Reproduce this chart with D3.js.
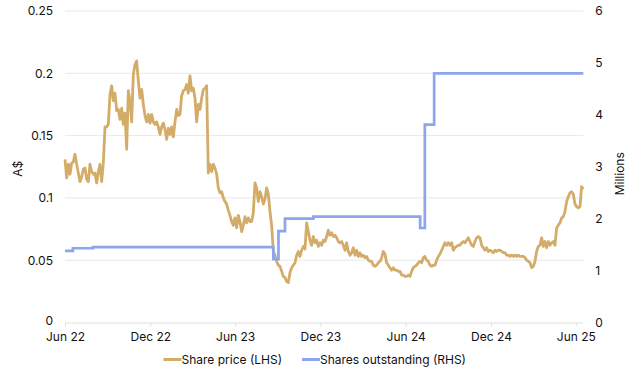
<!DOCTYPE html>
<html>
<head>
<meta charset="utf-8">
<script src="https://cdn.jsdelivr.net/npm/d3@7"></script>
<style>
  html, body { margin: 0; padding: 0; background: #fff; }
  svg { display: block; font-family: Inter, "Noto Sans", sans-serif; }
</style>
</head>
<body>
<svg id="chart" width="630" height="374"></svg>
<script>
// ---- data ----
const priceStart = "2022-06-01";
const priceEnd = "2025-06-17";
const priceValues = [
  0.131,0.116,0.127,0.119,0.128,0.129,0.135,0.127,0.120,0.113,
  0.117,0.123,0.124,0.115,0.113,0.127,0.121,0.119,0.120,0.112,
  0.121,0.127,0.113,0.128,0.157,0.157,0.159,0.183,0.190,0.178,
  0.184,0.170,0.171,0.163,0.172,0.159,0.168,0.139,0.186,0.178,
  0.161,0.199,0.207,0.210,0.194,0.180,0.187,0.175,0.166,0.161,
  0.167,0.160,0.167,0.161,0.159,0.161,0.157,0.151,0.157,0.160,
  0.155,0.147,0.156,0.151,0.157,0.149,0.161,0.171,0.166,0.167,
  0.182,0.186,0.187,0.191,0.184,0.198,0.186,0.188,0.180,0.161,
  0.175,0.171,0.180,0.187,0.188,0.190,0.120,0.127,0.121,0.127,
  0.124,0.119,0.108,0.104,0.105,0.100,0.097,0.095,0.090,0.086,
  0.081,0.078,0.084,0.076,0.086,0.081,0.073,0.078,0.085,0.080,
  0.084,0.081,0.081,0.088,0.112,0.108,0.097,0.105,0.101,0.095,
  0.099,0.108,0.103,0.089,0.078,0.057,0.054,0.049,0.046,0.045,
  0.041,0.037,0.036,0.033,0.032,0.040,0.044,0.046,0.048,0.054,
  0.057,0.053,0.058,0.061,0.059,0.080,0.073,0.066,0.062,0.069,
  0.064,0.066,0.061,0.064,0.062,0.066,0.065,0.069,0.074,0.070,
  0.072,0.069,0.070,0.068,0.065,0.064,0.065,0.062,0.058,0.064,
  0.057,0.054,0.056,0.060,0.054,0.058,0.053,0.056,0.053,0.054,
  0.052,0.053,0.050,0.049,0.049,0.046,0.045,0.046,0.048,0.049,
  0.052,0.057,0.055,0.048,0.046,0.044,0.042,0.044,0.042,0.042,
  0.041,0.041,0.038,0.038,0.037,0.037,0.038,0.037,0.041,0.044,
  0.045,0.046,0.048,0.049,0.048,0.052,0.053,0.050,0.049,0.046,
  0.045,0.046,0.046,0.050,0.053,0.055,0.058,0.061,0.064,0.062,
  0.064,0.062,0.064,0.058,0.060,0.061,0.062,0.062,0.064,0.065,
  0.064,0.066,0.068,0.065,0.062,0.061,0.065,0.068,0.069,0.068,
  0.062,0.060,0.058,0.060,0.057,0.058,0.057,0.056,0.058,0.057,
  0.058,0.058,0.057,0.056,0.056,0.054,0.054,0.053,0.054,0.053,
  0.054,0.053,0.054,0.053,0.053,0.053,0.052,0.050,0.049,0.048,
  0.044,0.045,0.049,0.057,0.061,0.062,0.068,0.061,0.065,0.060,
  0.065,0.062,0.064,0.065,0.062,0.076,0.078,0.080,0.084,0.085,
  0.089,0.097,0.101,0.104,0.105,0.103,0.095,0.093,0.092,0.093,
  0.109,0.107
];

const sharesDates = ["2022-06-01","2022-06-18","2022-07-31","2023-08-22","2023-09-02","2023-09-16","2023-11-16","2024-07-02","2024-07-12","2024-08-01","2025-06-17"];
const sharesValues = [1.38, 1.43, 1.45, 1.22, 1.76, 2.00, 2.04, 1.82, 3.81, 4.80, 4.80];

const xTickDates = ["2022-06-01","2022-12-01","2023-06-01","2023-12-01","2024-06-01","2024-12-01","2025-06-01"];
const xTickLabels = ["Jun 22","Dec 22","Jun 23","Dec 23","Jun 24","Dec 24","Jun 25"];
const leftTicks = [0, 0.05, 0.1, 0.15, 0.2, 0.25];
const leftTickLabels = ["0","0.05","0.1","0.15","0.2","0.25"];
const rightTicks = [0, 1, 2, 3, 4, 5, 6];
const rightTickLabels = ["0","1","2","3","4","5","6"];
const seriesNames = ["Share price (LHS)", "Shares outstanding (RHS)"];
const seriesColors = ["#D4AC69", "#8DA4EF"];

// ---- chart ----
const parse = d3.timeParse("%Y-%m-%d");
const t0 = parse(priceStart), t1 = parse(priceEnd);
const n = priceValues.length;
const priceData = priceValues.map((v, i) => ({
  date: new Date(+t0 + (t1 - t0) * i / (n - 1)), value: v
}));
const sharesData = sharesDates.map((d, i) => ({ date: parse(d), value: sharesValues[i] }));

const svg = d3.select("#chart");
const L = 65, R = 583.3, T = 11, B = 322.5;

const x = d3.scaleTime().domain([t0, t1]).range([L, R]);
const yL = d3.scaleLinear().domain([0, 0.25]).range([B, T]);
const yR = d3.scaleLinear().domain([0, 6]).range([B, T]);

// gridlines
svg.append("g").selectAll("line")
  .data(leftTicks.filter(d => d > 0))
  .join("line")
  .attr("x1", L).attr("x2", R)
  .attr("y1", d => yL(d)).attr("y2", d => yL(d))
  .attr("stroke", "#e8e8e8").attr("stroke-width", 1);

// x axis
const xAxis = d3.axisBottom(x)
  .tickValues(xTickDates.map(parse))
  .tickFormat((d, i) => xTickLabels[i])
  .tickSize(4).tickPadding(6);
const gx = svg.append("g").attr("transform", `translate(0,${B})`).call(xAxis);
gx.select(".domain").attr("stroke", "#e0e0e0").attr("d", `M${L},0.5H${R}`);
gx.selectAll(".tick line").attr("stroke", "#e0e0e0");
gx.selectAll(".tick text").attr("font-size", 12).attr("fill", "#111").attr("font-family", "Inter, sans-serif");

// left axis
const yAxisL = d3.axisLeft(yL).tickValues(leftTicks)
  .tickFormat((d, i) => leftTickLabels[i]).tickSize(0).tickPadding(12);
const gl = svg.append("g").attr("transform", `translate(${L},0)`).call(yAxisL);
gl.select(".domain").remove();
gl.selectAll(".tick text").attr("font-size", 12).attr("fill", "#111").attr("font-family", "Inter, sans-serif");
gl.selectAll(".tick").filter(d => d === 0).select("text").attr("dy", "0.2em");

// right axis
const yAxisR = d3.axisRight(yR).tickValues(rightTicks)
  .tickFormat((d, i) => rightTickLabels[i]).tickSize(0).tickPadding(12);
const gr = svg.append("g").attr("transform", `translate(${R},0)`).call(yAxisR);
gr.select(".domain").remove();
gr.selectAll(".tick text").attr("font-size", 12).attr("fill", "#111").attr("font-family", "Inter, sans-serif");

// axis titles
svg.append("text")
  .attr("transform", `translate(22,${(T + B) / 2 + 2}) rotate(-90)`)
  .attr("text-anchor", "middle")
  .attr("font-size", 12).attr("fill", "#111")
  .text("A$");
svg.append("text")
  .attr("transform", `translate(624,${(T + B) / 2 + 7}) rotate(-90)`)
  .attr("text-anchor", "middle")
  .attr("font-size", 12).attr("fill", "#111")
  .text("Millions");

// lines
const priceLine = d3.line().x(d => x(d.date)).y(d => yL(d.value));
svg.append("path").datum(priceData)
  .attr("d", priceLine)
  .attr("fill", "none").attr("stroke", seriesColors[0])
  .attr("stroke-width", 2.8).attr("stroke-linejoin", "round");

const sharesLine = d3.line().curve(d3.curveStepAfter).x(d => x(d.date)).y(d => yR(d.value));
svg.append("path").datum(sharesData)
  .attr("d", sharesLine)
  .attr("fill", "none").attr("stroke", seriesColors[1])
  .attr("stroke-width", 2.7);

// legend
const legendX = [163.5, 302];
const lg = svg.append("g").attr("transform", "translate(0,359.5)");
seriesNames.forEach((name, i) => {
  lg.append("line")
    .attr("x1", legendX[i]).attr("x2", legendX[i] + 18)
    .attr("y1", 0).attr("y2", 0)
    .attr("stroke", seriesColors[i]).attr("stroke-width", 3);
  lg.append("text")
    .attr("x", legendX[i] + 18).attr("y", 0).attr("dy", "0.35em")
    .attr("font-size", 12).attr("fill", "#111")
    .text(name);
});
</script>
</body>
</html>
